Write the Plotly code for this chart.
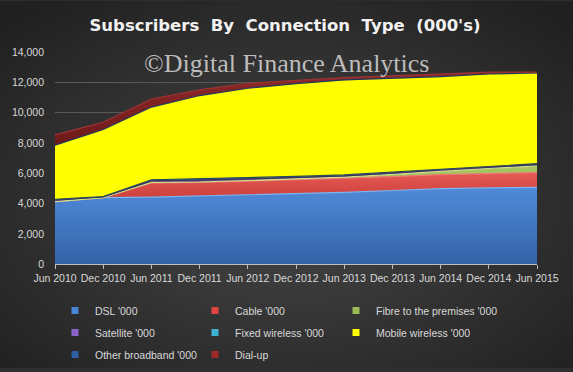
import base64
import plotly.graph_objects as go

# ---------------- data (000's) ----------------
dates = ["Jun 2010", "Dec 2010", "Jun 2011", "Dec 2011", "Jun 2012", "Dec 2012",
         "Jun 2013", "Dec 2013", "Jun 2014", "Dec 2014", "Jun 2015"]
dsl = [4140, 4400, 4440, 4510, 4600, 4680, 4750, 4870, 4990, 5040, 5080]
cable = [0, 0, 940, 890, 890, 900, 910, 920, 930, 950, 970]
fibre = [0, 0, 20, 30, 40, 60, 90, 140, 230, 330, 440]
satellite = [100, 50, 110, 130, 110, 100, 90, 90, 90, 90, 90]
fixed_wireless = [50, 20, 70, 90, 70, 60, 60, 60, 60, 60, 60]
mobile_wireless = [3550, 4400, 4770, 5460, 5880, 6100, 6240, 6170, 6060, 6060, 5960]
other_broadband = [20, 20, 20, 20, 20, 20, 20, 20, 20, 20, 20]
dial_up = [680, 480, 530, 370, 330, 210, 150, 150, 150, 130, 60]

y_ticks = [0, 2000, 4000, 6000, 8000, 10000, 12000, 14000]

series = [
    # name, values, fill colour, edge colour, gradient (bottom, top), legend
    ("DSL '000", dsl, "#4278c6", "#7db5f0", ("#3463a8", "#4f8ad8"), "legend"),
    ("Cable '000", cable, "#d8433f", "#f07a76", ("#c93c38", "#e65a56"), "legend2"),
    ("Fibre to the premises '000", fibre, "#a5c460", "#cfe585", None, "legend3"),
    ("Satellite '000", satellite, "#6a4c90", "#3e3060", None, "legend"),
    ("Fixed wireless '000", fixed_wireless, "#3a8ea8", "#2a4a5a", None, "legend2"),
    ("Mobile wireless '000", mobile_wireless, "#ffff00", "#f4f400", None, "legend3"),
    ("Other broadband '000", other_broadband, "#2c4f80", "#1f3a60", None, "legend"),
    ("Dial-up", dial_up, "#7e1f1f", "#9c3434", ("#6e1a1a", "#8e2828"), "legend2"),
]
legend_marker = {
    "DSL '000": "#4a86d6", "Cable '000": "#e0463f", "Fibre to the premises '000": "#9bbb59",
    "Satellite '000": "#8a63c8", "Fixed wireless '000": "#3fb0d0",
    "Mobile wireless '000": "#ffff00", "Other broadband '000": "#2f5fa0", "Dial-up": "#a02a2a",
}

fig = go.Figure()
for name, vals, fillc, edge, grad, lg in series:
    kw = {}
    if grad is not None:
        kw["fillgradient"] = dict(type="vertical",
                                  colorscale=[[0, grad[0]], [1, grad[1]]])
    fig.add_trace(go.Scatter(
        x=dates, y=vals, name=name, mode="lines", stackgroup="one",
        fillcolor=fillc, line=dict(color=edge, width=1.2),
        showlegend=False, hoverinfo="skip", **kw))

# legend entries (three columns)
for name, vals, fillc, edge, grad, lg in series:
    fig.add_trace(go.Scatter(
        x=[None], y=[None], mode="markers", name=name, legend=lg,
        legendgroup=name,
        marker=dict(symbol="square", size=7, color=legend_marker[name],
                    line=dict(width=0)),
        showlegend=True))

# background gradient
svg = ('<svg xmlns="http://www.w3.org/2000/svg" width="573" height="372">'
       '<defs><radialGradient id="g" cx="50%" cy="55%" r="70%">'
       '<stop offset="0" stop-color="#474747"/><stop offset="1" stop-color="#202020"/>'
       '</radialGradient></defs><rect width="573" height="372" fill="url(#g)"/></svg>')
bg = "data:image/svg+xml;base64," + base64.b64encode(svg.encode()).decode()

W, H = 573, 372
L, R, T, B = 55, 36, 52, 105
pw, ph = W - L - R, H - T - B

font_ui = "Liberation Sans, Arial, sans-serif"
leg_common = dict(orientation="v", yanchor="top", xanchor="left",
                  yref="container",
                  font=dict(family=font_ui, size=10.5, color="#d9d9d9"),
                  bgcolor="rgba(0,0,0,0)", tracegroupgap=3, itemwidth=30)
y_leg = 1 - 296 / H

fig.update_layout(
    width=W, height=H,
    margin=dict(l=L, r=R, t=T, b=B),
    paper_bgcolor="#2e2e2e", plot_bgcolor="rgba(0,0,0,0)",
    images=[dict(source=bg, xref="paper", yref="paper",
                 x=-L / pw, y=1 + T / ph, sizex=W / pw, sizey=H / ph,
                 xanchor="left", yanchor="top", sizing="stretch", layer="below")],
    title=dict(text="Subscribers  By  Connection  Type  (000's)",
               x=(285 - L) / pw, xref="paper", xanchor="center",
               y=1 - 25 / H, yref="container", yanchor="middle",
               font=dict(family="DejaVu Sans, sans-serif", size=16.5,
                         color="#f2f2f2", weight="bold")),
    xaxis=dict(type="category", range=[0, len(dates) - 1], showgrid=False,
               showline=True, linecolor="#bfbfbf", linewidth=1,
               ticks="outside", ticklen=4, tickcolor="#bfbfbf",
               tickfont=dict(family=font_ui, size=10.5, color="#d9d9d9"),
               fixedrange=True),
    yaxis=dict(range=[0, 14000], tickvals=y_ticks, tickformat=",",
               showgrid=True, gridcolor="#595959", gridwidth=1,
               zeroline=False, showline=False, ticks="",
               ticklabelstandoff=10,
               tickfont=dict(family=font_ui, size=10.5, color="#d9d9d9"),
               fixedrange=True),
    legend=dict(x=(55 - L) / pw, y=y_leg, **leg_common),
    legend2=dict(x=(195 - L) / pw, y=y_leg, **leg_common),
    legend3=dict(x=(336 - L) / pw, y=y_leg, **leg_common),
    annotations=[dict(text="©Digital Finance Analytics", xref="paper", yref="paper",
                      x=(286 - L) / pw, y=(267 - 64) / ph, xanchor="center",
                      yanchor="middle", showarrow=False,
                      font=dict(family="Liberation Serif, Times New Roman, serif",
                                size=26, color="rgba(215,215,215,0.85)"))],
    showlegend=True,
)

fig.write_html("out.html",
               config={"displayModeBar": False},
               post_script="document.body.style.margin='0';"
                           "document.body.style.background='#2e2e2e';")
